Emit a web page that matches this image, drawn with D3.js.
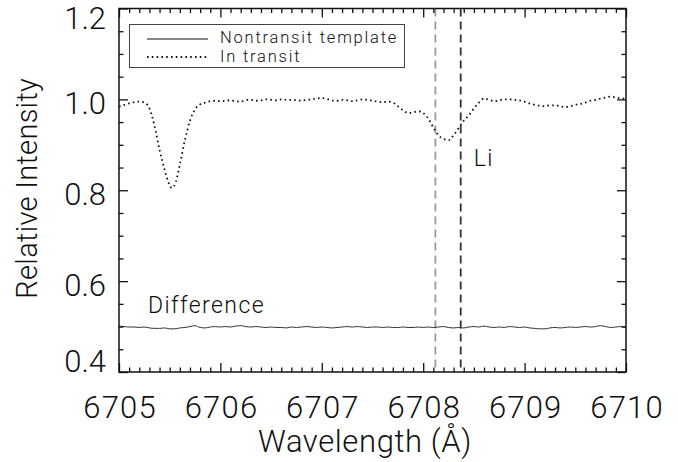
<!DOCTYPE html>
<html>
<head>
<meta charset="utf-8">
<script src="https://cdn.jsdelivr.net/npm/d3@7/dist/d3.min.js"></script>
<style>
  html, body { margin: 0; padding: 0; background: #fff; }
  svg { display: block; }
  text { font-family: Roboto, "Liberation Sans", sans-serif; font-weight: 300; fill: #111; }
</style>
</head>
<body>
<svg id="chart" width="678" height="462"></svg>
<script>
// Spectrum around the Li 6708 Å doublet: in-transit spectrum and difference from the template
const wavelength = [
  6705.00, 6705.05, 6705.10, 6705.15, 6705.20, 6705.25, 6705.30, 6705.35, 6705.40, 6705.45,
  6705.49, 6705.52, 6705.56, 6705.60, 6705.65, 6705.70, 6705.75, 6705.80, 6705.85, 6705.90,
  6705.95, 6706.00, 6706.05, 6706.10, 6706.15, 6706.20, 6706.25, 6706.30, 6706.35, 6706.40,
  6706.45, 6706.50, 6706.55, 6706.60, 6706.65, 6706.70, 6706.75, 6706.80, 6706.85, 6706.90,
  6706.95, 6707.00, 6707.05, 6707.10, 6707.15, 6707.20, 6707.25, 6707.30, 6707.35, 6707.40,
  6707.45, 6707.50, 6707.55, 6707.60, 6707.65, 6707.70, 6707.75, 6707.80, 6707.85, 6707.90,
  6707.95, 6708.00, 6708.05, 6708.10, 6708.15, 6708.20, 6708.25, 6708.30, 6708.35, 6708.40,
  6708.45, 6708.50, 6708.55, 6708.60, 6708.65, 6708.70, 6708.75, 6708.80, 6708.85, 6708.90,
  6708.95, 6709.00, 6709.05, 6709.10, 6709.15, 6709.20, 6709.25, 6709.30, 6709.35, 6709.40,
  6709.45, 6709.50, 6709.55, 6709.60, 6709.65, 6709.70, 6709.75, 6709.80, 6709.85, 6709.90,
  6709.95, 6710.00
];
const inTransit = [
  0.984, 0.988, 0.991, 0.994, 0.995, 0.993, 0.980, 0.942, 0.889, 0.845,
  0.816, 0.805, 0.818, 0.857, 0.910, 0.953, 0.978, 0.989, 0.993, 0.996,
  0.997, 0.996, 0.997, 0.998, 0.996, 0.995, 0.998, 0.999, 0.997, 0.998,
  1.000, 0.999, 0.998, 1.000, 0.999, 0.999, 0.998, 0.997, 0.999, 1.000,
  1.002, 1.003, 1.001, 0.998, 0.997, 0.999, 0.998, 0.996, 0.998, 1.000,
  0.999, 0.997, 0.995, 0.994, 0.995, 0.993, 0.985, 0.976, 0.970, 0.971,
  0.974, 0.970, 0.958, 0.938, 0.921, 0.913, 0.910, 0.921, 0.937, 0.953,
  0.965, 0.980, 0.993, 1.002, 0.999, 0.996, 0.998, 1.000, 1.000, 0.999,
  0.998, 0.995, 0.991, 0.988, 0.986, 0.985, 0.987, 0.987, 0.985, 0.983,
  0.985, 0.988, 0.990, 0.993, 0.997, 0.999, 1.002, 1.004, 1.006, 1.004,
  1.003, 1.001
];

// Difference spectrum (offset to 0.5), sampled every 0.05 Å
const diffWavelength = d3.range(0, 101).map(i => 6705 + i * 0.05);
const difference = [
  0.501, 0.500, 0.499, 0.499, 0.498, 0.499, 0.497, 0.496, 0.496, 0.497,
  0.495, 0.495, 0.497, 0.498, 0.500, 0.502, 0.498, 0.497, 0.499, 0.500,
  0.499, 0.500, 0.499, 0.501, 0.502, 0.500, 0.499, 0.500, 0.499, 0.498,
  0.499, 0.498, 0.498, 0.497, 0.499, 0.498, 0.499, 0.500, 0.499, 0.498,
  0.499, 0.498, 0.497, 0.498, 0.499, 0.500, 0.499, 0.500, 0.499, 0.498,
  0.499, 0.499, 0.498, 0.499, 0.498, 0.498, 0.499, 0.498, 0.498, 0.499,
  0.498, 0.499, 0.498, 0.499, 0.500, 0.498, 0.497, 0.498, 0.497, 0.499,
  0.500, 0.499, 0.501, 0.499, 0.498, 0.499, 0.498, 0.500, 0.499, 0.498,
  0.499, 0.497, 0.496, 0.495, 0.495, 0.497, 0.498, 0.497, 0.498, 0.499,
  0.498, 0.499, 0.500, 0.499, 0.500, 0.502, 0.500, 0.498, 0.499, 0.500,
  0.499
];

// Li line positions (Å)
const liLines = [6708.12, 6708.37];

const xMajor = [6705, 6706, 6707, 6708, 6709, 6710];
const yMajor = [0.4, 0.6, 0.8, 1.0, 1.2];
const yLabels = ["0.4", "0.6", "0.8", "1.0", "1.2"];

const svg = d3.select("#chart");
const plotLeft = 119, plotRight = 626, plotTop = 8.5, plotBottom = 372;

const x = d3.scaleLinear().domain([6705, 6710]).range([plotLeft, plotRight]);
const y = d3.scaleLinear().domain([0.4, 1.2]).range([plotBottom, plotTop]);

const xMinor = d3.range(0, 51).map(i => 6705 + i * 0.1).filter(v => Math.abs(v - Math.round(v)) > 1e-6);
const yMinor = d3.range(0, 17).map(i => 0.4 + i * 0.05).filter(v => Math.abs(v * 5 - Math.round(v * 5)) > 1e-6);

// Li marker lines
const liStyles = [
  { stroke: "#9a9a9a" },
  { stroke: "#333333" }
];
svg.append("g").selectAll("line").data(liLines).join("line")
  .attr("x1", d => x(d)).attr("x2", d => x(d))
  .attr("y1", y(1.2)).attr("y2", y(0.4))
  .attr("stroke", (d, i) => liStyles[i].stroke)
  .attr("stroke-width", 1.8)
  .attr("stroke-dasharray", "8,5");

// Spectra
const line = d3.line().curve(d3.curveMonotoneX).x(d => x(d[0])).y(d => y(d[1]));

svg.append("path")
  .datum(wavelength.map((w, i) => [w, inTransit[i]]))
  .attr("d", line)
  .attr("fill", "none")
  .attr("stroke", "#111")
  .attr("stroke-width", 1.8)
  .attr("stroke-dasharray", "1.6,3.2");

svg.append("path")
  .datum(diffWavelength.map((w, i) => [w, difference[i]]))
  .attr("d", line)
  .attr("fill", "none")
  .attr("stroke", "#333")
  .attr("stroke-width", 1);

// Axes: ticks point into the plot on all four sides
function noDomain(g) { g.select(".domain").remove(); g.selectAll(".tick line").attr("stroke", "#111").attr("stroke-width", 1.3); }

svg.append("g").attr("transform", `translate(0,${plotBottom})`)
  .call(d3.axisBottom(x).tickValues(xMinor).tickSize(-4.5).tickFormat(""))
  .call(noDomain);
svg.append("g").attr("transform", `translate(0,${plotTop})`)
  .call(d3.axisTop(x).tickValues(xMinor).tickSize(-4.5).tickFormat(""))
  .call(noDomain);
svg.append("g").attr("transform", `translate(0,${plotTop})`)
  .call(d3.axisTop(x).tickValues(xMajor).tickSize(-9).tickFormat(""))
  .call(noDomain);
const xAxis = svg.append("g").attr("transform", `translate(0,${plotBottom})`)
  .call(d3.axisBottom(x).tickValues(xMajor).tickSize(-9).tickPadding(24).tickFormat(d3.format("d")))
  .call(noDomain);
xAxis.attr("font-family", null).attr("font-size", null);
xAxis.selectAll("text").attr("font-size", 31).attr("letter-spacing", 1.2).attr("dx", 0.6);

svg.append("g").attr("transform", `translate(${plotLeft},0)`)
  .call(d3.axisLeft(y).tickValues(yMinor).tickSize(-4.5).tickFormat(""))
  .call(noDomain);
svg.append("g").attr("transform", `translate(${plotRight},0)`)
  .call(d3.axisRight(y).tickValues(yMinor).tickSize(-4.5).tickFormat(""))
  .call(noDomain);
svg.append("g").attr("transform", `translate(${plotRight},0)`)
  .call(d3.axisRight(y).tickValues(yMajor).tickSize(-9).tickFormat(""))
  .call(noDomain);
const yAxis = svg.append("g").attr("transform", `translate(${plotLeft},0)`)
  .call(d3.axisLeft(y).tickValues(yMajor).tickSize(-9).tickPadding(13).tickFormat((d, i) => yLabels[i]))
  .call(noDomain);
yAxis.attr("font-family", null).attr("font-size", null);
yAxis.selectAll("text").attr("font-size", 31)
  .attr("transform", d => d === 1.2 ? "translate(0,10)" : d === 0.4 ? "translate(0,-10)" : "translate(0,4)");

// Plot frame
svg.append("rect")
  .attr("x", plotLeft).attr("y", plotTop)
  .attr("width", plotRight - plotLeft).attr("height", plotBottom - plotTop)
  .attr("fill", "none").attr("stroke", "#111").attr("stroke-width", 1.5);

// Axis titles
svg.append("text")
  .attr("x", 365).attr("y", 452)
  .attr("text-anchor", "middle").attr("font-size", 31).attr("letter-spacing", 0.6)
  .text("Wavelength (Å)");
svg.append("text")
  .attr("transform", `translate(37,${(plotTop + plotBottom) / 2 - 2}) rotate(-90)`)
  .attr("text-anchor", "middle").attr("font-size", 29).attr("letter-spacing", 0.3)
  .text("Relative Intensity");

// Annotations
svg.append("text")
  .attr("x", x(liLines[1]) + 13).attr("y", 166)
  .attr("font-size", 23).attr("letter-spacing", 1.5).text("Li");
svg.append("text")
  .attr("x", 148).attr("y", 313)
  .attr("font-size", 23).attr("letter-spacing", 1.4).text("Difference");

// Legend
const legend = svg.append("g");
legend.append("rect")
  .attr("x", 129.5).attr("y", 24.5).attr("width", 275).attr("height", 43)
  .attr("fill", "#fff").attr("stroke", "#444").attr("stroke-width", 1);
legend.append("line")
  .attr("x1", 147).attr("x2", 208).attr("y1", 39).attr("y2", 39)
  .attr("stroke", "#111").attr("stroke-width", 1);
legend.append("line")
  .attr("x1", 147).attr("x2", 208).attr("y1", 57).attr("y2", 57)
  .attr("stroke", "#111").attr("stroke-width", 1.8).attr("stroke-dasharray", "1.6,3.2");
legend.append("text").attr("x", 220).attr("y", 43).attr("font-size", 16.5).attr("letter-spacing", 1.8).text("Nontransit template");
legend.append("text").attr("x", 220).attr("y", 62).attr("font-size", 16.5).attr("letter-spacing", 1.8).text("In transit");
</script>
</body>
</html>
